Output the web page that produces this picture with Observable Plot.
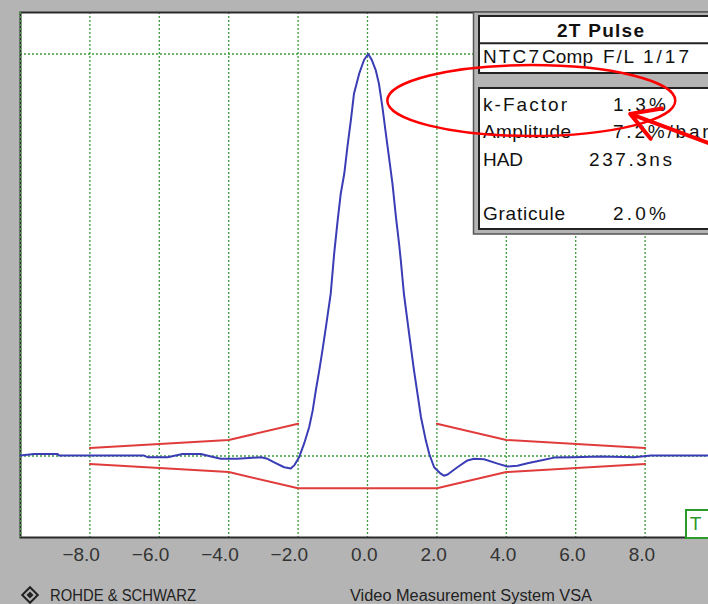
<!DOCTYPE html>
<html><head><meta charset="utf-8">
<script src="https://cdn.jsdelivr.net/npm/d3@7"></script>
<script src="https://cdn.jsdelivr.net/npm/@observablehq/plot@0.6"></script>
<style>
html,body{margin:0;padding:0;background:#b4b4b4;width:708px;height:604px;overflow:hidden;}
#chart{position:relative;width:708px;height:570px;overflow:hidden;}
#caption{position:relative;width:708px;height:34px;overflow:hidden;}
</style></head><body>
<div id="chart"></div>
<div id="caption"></div>
<script>
// ---- data ----
const traceX = [-10.0,-9.61,-8.93,-8.89,-6.44,-6.34,-5.76,-5.33,-4.80,-4.51,-4.23,-3.75,-3.07,-2.88,-2.69,-2.40,-2.21,-2.10,-1.97,-1.83,-1.68,-1.58,-1.49,-1.39,-1.30,-1.20,-1.06,-0.96,-0.86,-0.77,-0.67,-0.58,-0.48,-0.39,-0.24,-0.10,0.02,0.12,0.24,0.33,0.43,0.53,0.62,0.72,0.82,0.91,0.96,1.05,1.15,1.25,1.34,1.44,1.54,1.68,1.78,1.92,2.11,2.20,2.31,2.59,2.88,3.07,3.36,3.75,4.03,4.32,4.61,4.99,5.38,5.95,6.72,7.68,8.17,9.80,10.0];
const traceY = [0.1,0.5,0.5,0.1,0.1,-0.3,-0.3,0.5,0.5,-0.1,-0.7,-0.7,-0.3,-0.7,-1.6,-2.8,-3.1,-2.2,-0.3,3.0,7.2,11.3,16.3,21.3,26.2,32.0,40.4,50.4,58.6,65.3,70.2,76.8,83.5,90.1,95.1,98.5,100.0,98.6,95.9,92.6,86.8,80.1,74.3,67.7,59.4,52.8,48.6,40.3,33.7,27.1,21.3,15.5,9.7,3.9,0.5,-2.8,-4.4,-4.9,-4.6,-2.8,-1.1,-0.7,-0.8,-1.9,-2.6,-2.4,-1.8,-1.1,-0.4,-0.3,-0.1,-0.3,0.1,0.1,0.1];

const maskUpperLeftX = [-8,-4,-2];
const maskUpperLeftY = [2,4,8];
const maskUpperRightX = [2,4,8];
const maskUpperRightY = [8,4,2];
const maskLowerX = [-8,-4,-2,2,4,8];
const maskLowerY = [-2,-4,-8,-8,-4,-2];

const xTicks = [-8,-6,-4,-2,0,2,4,6,8];
const gridY = [0,100];

const panelTitle = "2T Pulse";
const panelSubtitle = ["NTC7","Comp","F/L","1/17"];
const panelLabels = ["k-Factor","Amplitude","HAD","Graticule"];
const panelValues = ["1.3%","7.2%/bar","237.3ns","2.0%"];
const markerLabel = "T";
const captionLeft = "ROHDE & SCHWARZ";
const captionRight = "Video Measurement System VSA";

// annotation (data units)
const ellipseAnn = {cx: 4.735, cy: 88.3, rx: 4.15, ry: 8.83};
const arrowAnn = [{x1: 10.18, y1: 76.7, x2: 7.57, y2: 85.1}];

// ---- build tables ----
const trace = traceX.map((x,i)=>({x, y: traceY[i]}));
const mUL = maskUpperLeftX.map((x,i)=>({x, y: maskUpperLeftY[i]}));
const mUR = maskUpperRightX.map((x,i)=>({x, y: maskUpperRightY[i]}));
const mL = maskLowerX.map((x,i)=>({x, y: maskLowerY[i]}));

const NS = "http://www.w3.org/2000/svg";
function el(tag, attrs, text){
  const e = document.createElementNS(NS, tag);
  for (const k in attrs) e.setAttribute(k, attrs[k]);
  if (text != null) e.textContent = text;
  return e;
}
const FONT = "Liberation Sans, Arial, sans-serif";

// info panel layout (pixels)
function panelMark(){
  const g = el("g", {"font-family": FONT, "font-size": 19, fill: "#111", "text-anchor": "start"});
  g.appendChild(el("rect", {x: 473.5, y: 12, width: 250, height: 222, fill: "#b4b4b4", stroke: "#555", "stroke-width": 1.5}));
  g.appendChild(el("rect", {x: 479, y: 16, width: 250, height: 57, fill: "#fff", stroke: "#222", "stroke-width": 2}));
  g.appendChild(el("line", {x1: 479, x2: 720, y1: 43.3, y2: 43.3, stroke: "#222", "stroke-width": 2}));
  g.appendChild(el("rect", {x: 479, y: 88, width: 250, height: 141, fill: "#fff", stroke: "#222", "stroke-width": 2}));
  g.appendChild(el("text", {x: 557, y: 36.7, "font-weight": "bold", textLength: 87, lengthAdjust: "spacing"}, panelTitle));
  const subX = [483, 542, 603, 643], subW = [56, 51, 31, 46];
  panelSubtitle.forEach((t,i)=>g.appendChild(el("text", {x: subX[i], y: 63.3, textLength: subW[i], lengthAdjust: "spacing"}, t)));
  const rowY = [111, 138, 165.5, 219.5];
  const labW = [84, 88, 40, 82];
  const valX = [613, 613, 589, 613];
  const valW = [53, null, 83, 53];
  panelLabels.forEach((t,i)=>g.appendChild(el("text", {x: 483, y: rowY[i], textLength: labW[i], lengthAdjust: "spacing"}, t)));
  panelValues.forEach((t,i)=>{
    const a = {x: valX[i], y: rowY[i]};
    if (valW[i]) { a.textLength = valW[i]; a.lengthAdjust = "spacing"; }
    else a["letter-spacing"] = 2.8;
    g.appendChild(el("text", a, t));
  });
  return g;
}

function ellipseMark(index, scales){
  const {x, y} = scales;
  return el("ellipse", {
    cx: x(ellipseAnn.cx), cy: y(ellipseAnn.cy),
    rx: x(ellipseAnn.cx + ellipseAnn.rx) - x(ellipseAnn.cx),
    ry: y(ellipseAnn.cy) - y(ellipseAnn.cy + ellipseAnn.ry),
    fill: "none", stroke: "#f00", "stroke-width": 2.5
  });
}

function markerMark(){
  const g = el("g", {"font-family": FONT});
  g.appendChild(el("rect", {x: 686, y: 510, width: 40, height: 28, fill: "#fff", stroke: "#2a9a2a", "stroke-width": 2}));
  g.appendChild(el("text", {x: 695.5, y: 530, "text-anchor": "middle", "font-size": 19, fill: "#2a9a2a"}, markerLabel));
  return g;
}

const fmt = d3.format(".1f");
const yLo = -20.27, yHi = 110.32;

const plot = Plot.plot({
  width: 714, height: 570,
  marginLeft: 20, marginRight: 0, marginTop: 12, marginBottom: 33,
  style: {background: "transparent", fontFamily: FONT, fontSize: "19px", color: "#333", maxWidth: "none", overflow: "visible"},
  x: {domain: [-10, 10], label: null},
  y: {domain: [yLo, yHi], axis: null, label: null},
  marks: [
    Plot.frame({fill: "#fff", stroke: "none"}),
    Plot.ruleX(xTicks, {stroke: "#3c9c3c", strokeWidth: 1.3, strokeDasharray: "2,2"}),
    Plot.ruleY(gridY, {stroke: "#3c9c3c", strokeWidth: 1.3, strokeDasharray: "2,2"}),
    Plot.frame({stroke: "#2a2a2a", strokeWidth: 2}),
    Plot.ruleX([-10], {stroke: "#3c9c3c", strokeWidth: 1.5, strokeDasharray: "2,2"}),
    Plot.line(mUL, {x: "x", y: "y", stroke: "#e03c3c", strokeWidth: 2}),
    Plot.line(mUR, {x: "x", y: "y", stroke: "#e03c3c", strokeWidth: 2}),
    Plot.line(mL, {x: "x", y: "y", stroke: "#e03c3c", strokeWidth: 2}),
    Plot.line(trace, {x: "x", y: "y", stroke: "#3a3db5", strokeWidth: 2}),
    Plot.axisX(xTicks, {tickSize: 0, tickPadding: 10, tickFormat: fmt, textAnchor: "end", dx: 10, fill: "#333"}),
    panelMark,
    ellipseMark,
    Plot.arrow(arrowAnn, {x1: "x1", y1: "y1", x2: "x2", y2: "y2", stroke: "#f00", strokeWidth: 4, headLength: 24}),
    markerMark
  ]
});
document.getElementById("chart").appendChild(plot);

// caption
const cap = el("svg", {width: 708, height: 34, "font-family": FONT, fill: "#222"});
const logo = el("g", {transform: "translate(30,25)"});
logo.appendChild(el("rect", {x: -5.5, y: -5.5, width: 11, height: 11, transform: "rotate(45)", fill: "none", stroke: "#222", "stroke-width": 2}));
logo.appendChild(el("rect", {x: -2.5, y: -2.5, width: 5, height: 5, transform: "rotate(45)", fill: "#222"}));
cap.appendChild(logo);
cap.appendChild(el("text", {x: 50, y: 31, "font-size": 16, textLength: 146, lengthAdjust: "spacingAndGlyphs"}, captionLeft));
cap.appendChild(el("text", {x: 350, y: 31, "font-size": 16, textLength: 242, lengthAdjust: "spacingAndGlyphs"}, captionRight));
document.getElementById("caption").appendChild(cap);
</script>
</body></html>
